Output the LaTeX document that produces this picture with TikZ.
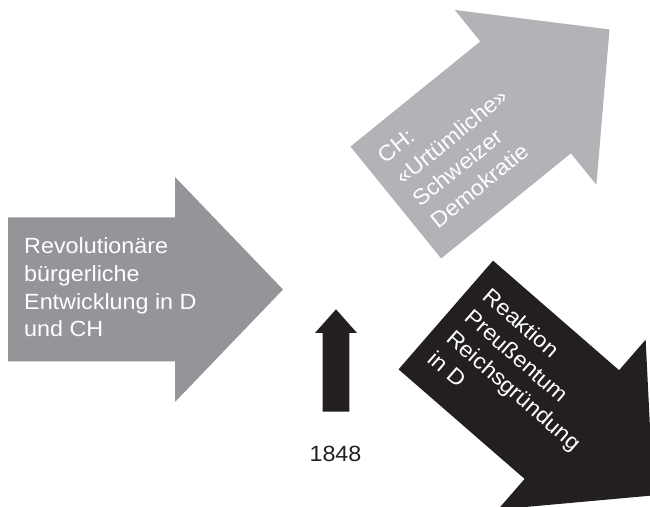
\documentclass[tikz,border=0pt]{standalone}
\usepackage{fontspec}
\setmainfont{Liberation Sans}[FakeStretch=1.06]
\definecolor{agray}{HTML}{939598}
\definecolor{lgray}{HTML}{B1B3B6}
\definecolor{ablack}{HTML}{231F20}
% one big block arrow, back edge centred on the origin, pointing along +x
\newcommand{\fatarrow}[1]{\fill[#1] (0,72) -- (167,72) -- (167,112.5) -- (275,0) -- (167,-112.5) -- (167,-72) -- (0,-72) -- cycle;}

\begin{document}
\begin{tikzpicture}[x=1pt, y=1pt,
    LBL/.style={text=white, inner sep=0, anchor=base west, font=\fontsize{22}{28}\selectfont},
    YR/.style={text=ablack, inner sep=0, anchor=base, font=\fontsize{22}{28}\selectfont}
    ]
    \useasboundingbox (0,0) rectangle (650,506);
    \clip (0,0) rectangle (650,506);
    % left arrow
    \begin{scope}[shift={(8,216.5)}, transform shape]
        \fatarrow{agray}
        \foreach \txt [count=\i] in {Revolutionäre, bürgerliche, Entwicklung in D, und CH}
            \node[LBL] (rev\i) at (16,{36-27.8*(\i-1)}) {\txt};
    \end{scope}
    % upper arrow
    \begin{scope}[shift={(395.8,303.5)}, rotate=39, transform shape]
        \fatarrow{lgray}
        \foreach \txt [count=\i] in {CH:, «Urtümliche», Schweizer, Demokratie}
            \node[LBL] (ch\i) at (16,{36-27.8*(\i-1)}) {\txt};
    \end{scope}
    % lower arrow
    \begin{scope}[shift={(445.8,191)}, rotate=-41, transform shape]
        \fatarrow{ablack}
        \foreach \txt [count=\i] in {Reaktion, Preußentum, Reichsgründung, in D}
            \node[LBL] (re\i) at (16,{36-27.8*(\i-1)}) {\txt};
    \end{scope}
    % small arrow and year
    \fill[ablack] (322.7,94.3) -- (349.3,94.3) -- (349.3,173) -- (357,173) -- (336,196.7) -- (315,173) -- (322.7,173) -- cycle;
    \node[YR] (year) at (335.5,44.3) {1848};
\end{tikzpicture}
\end{document}
